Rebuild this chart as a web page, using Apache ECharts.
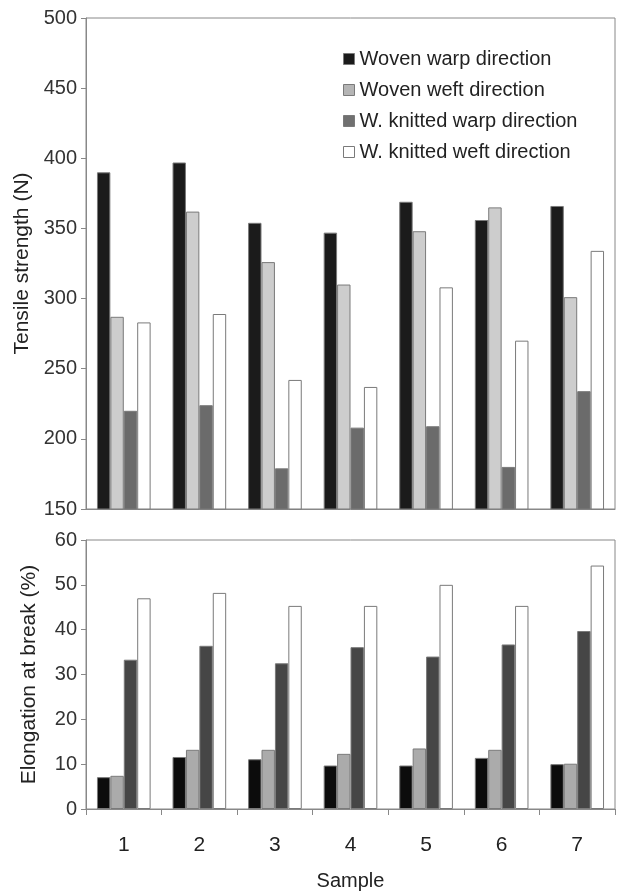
<!DOCTYPE html>
<html>
<head>
<meta charset="utf-8">
<script src="https://cdn.jsdelivr.net/npm/echarts@6/dist/echarts.min.js"></script>
<style>
  html, body { margin: 0; padding: 0; background: #fff; }
  #chart { width: 618px; height: 894px; }
</style>
</head>
<body>
<div id="chart"></div>
<script>
const samples = ['1', '2', '3', '4', '5', '6', '7']
const seriesNames = ['Woven warp direction', 'Woven weft direction', 'W. knitted warp direction', 'W. knitted weft direction']

// tensile strength (N)
const tensileWovenWarp = [390, 397, 354, 347, 369, 356, 366]
const tensileWovenWeft = [287, 362, 326, 310, 348, 365, 301]
const tensileKnitWarp = [220, 224, 179, 208, 209, 180, 234]
const tensileKnitWeft = [283, 289, 242, 237, 308, 270, 334]

// elongation at break (%)
const elongWovenWarp = [7.1, 11.6, 11.1, 9.7, 9.7, 11.4, 10.0]
const elongWovenWeft = [7.4, 13.2, 13.2, 12.3, 13.5, 13.2, 10.1]
const elongKnitWarp = [33.3, 36.4, 32.5, 36.1, 34.0, 36.7, 39.7]
const elongKnitWeft = [47.0, 48.2, 45.3, 45.3, 50.0, 45.3, 54.3]

const topColors = ['#1b1b1b', '#cdcdcd', '#6b6b6b', '#ffffff']
const bottomColors = ['#0c0c0c', '#ababab', '#464646', '#ffffff']
const legendColors = ['#1b1b1b', '#b5b5b5', '#707070', '#ffffff']

const font = 'Liberation Sans, Arial, sans-serif'
const textColor = '#222'
const axisColor = '#888'

function makeBar(name, data, color, idx) {
  return {
    name: name,
    type: 'bar',
    xAxisIndex: idx,
    yAxisIndex: idx,
    data: data,
    barGap: '0%',
    barCategoryGap: '29%',
    itemStyle: { color: color, borderColor: '#7a7a7a', borderWidth: 1 }
  }
}

const chart = echarts.init(document.getElementById('chart'))

const yAxisCommon = {
  type: 'value',
  nameLocation: 'middle',
  nameGap: 46,
  nameTextStyle: { fontFamily: font, fontSize: 21, color: textColor },
  axisLine: { show: true, lineStyle: { color: axisColor } },
  axisTick: { show: true, length: 5, lineStyle: { color: axisColor } },
  axisLabel: { fontFamily: font, fontSize: 20, color: '#333', margin: 9 },
  splitLine: { show: false }
}

const option = {
  animation: false,
  backgroundColor: '#fff',
  legend: {
    data: seriesNames.map((n, i) => ({
      name: n,
      itemStyle: { color: legendColors[i], borderColor: '#7a7a7a', borderWidth: 1 }
    })),
    orient: 'vertical',
    left: 338,
    top: 44,
    itemWidth: 11,
    itemHeight: 11,
    itemGap: 11,
    icon: 'rect',
    textStyle: { fontFamily: font, fontSize: 20, color: textColor }
  },
  grid: [
    { left: 86, right: 3, top: 18, height: 491, show: true, borderColor: axisColor, borderWidth: 1 },
    { left: 86, right: 3, top: 540, height: 269, show: true, borderColor: axisColor, borderWidth: 1 }
  ],
  xAxis: [
    {
      type: 'category',
      gridIndex: 0,
      data: samples,
      axisLine: { lineStyle: { color: axisColor } },
      axisTick: { show: false },
      axisLabel: { show: false }
    },
    {
      type: 'category',
      gridIndex: 1,
      data: samples,
      name: 'Sample',
      nameLocation: 'middle',
      nameGap: 62,
      nameTextStyle: { fontFamily: font, fontSize: 20, color: textColor },
      axisLine: { lineStyle: { color: axisColor } },
      axisTick: { show: true, length: 6, lineStyle: { color: axisColor } },
      axisLabel: { fontFamily: font, fontSize: 21, color: textColor, margin: 26 }
    }
  ],
  yAxis: [
    Object.assign({}, yAxisCommon, {
      gridIndex: 0,
      name: 'Tensile strength (N)',
      min: 150, max: 500, interval: 50
    }),
    Object.assign({}, yAxisCommon, {
      gridIndex: 1,
      name: 'Elongation at break (%)',
      min: 0, max: 60, interval: 10
    })
  ],
  series: [
    makeBar(seriesNames[0], tensileWovenWarp, topColors[0], 0),
    makeBar(seriesNames[1], tensileWovenWeft, topColors[1], 0),
    makeBar(seriesNames[2], tensileKnitWarp, topColors[2], 0),
    makeBar(seriesNames[3], tensileKnitWeft, topColors[3], 0),
    makeBar(seriesNames[0], elongWovenWarp, bottomColors[0], 1),
    makeBar(seriesNames[1], elongWovenWeft, bottomColors[1], 1),
    makeBar(seriesNames[2], elongKnitWarp, bottomColors[2], 1),
    makeBar(seriesNames[3], elongKnitWeft, bottomColors[3], 1)
  ]
}

chart.setOption(option)
</script>
</body>
</html>
